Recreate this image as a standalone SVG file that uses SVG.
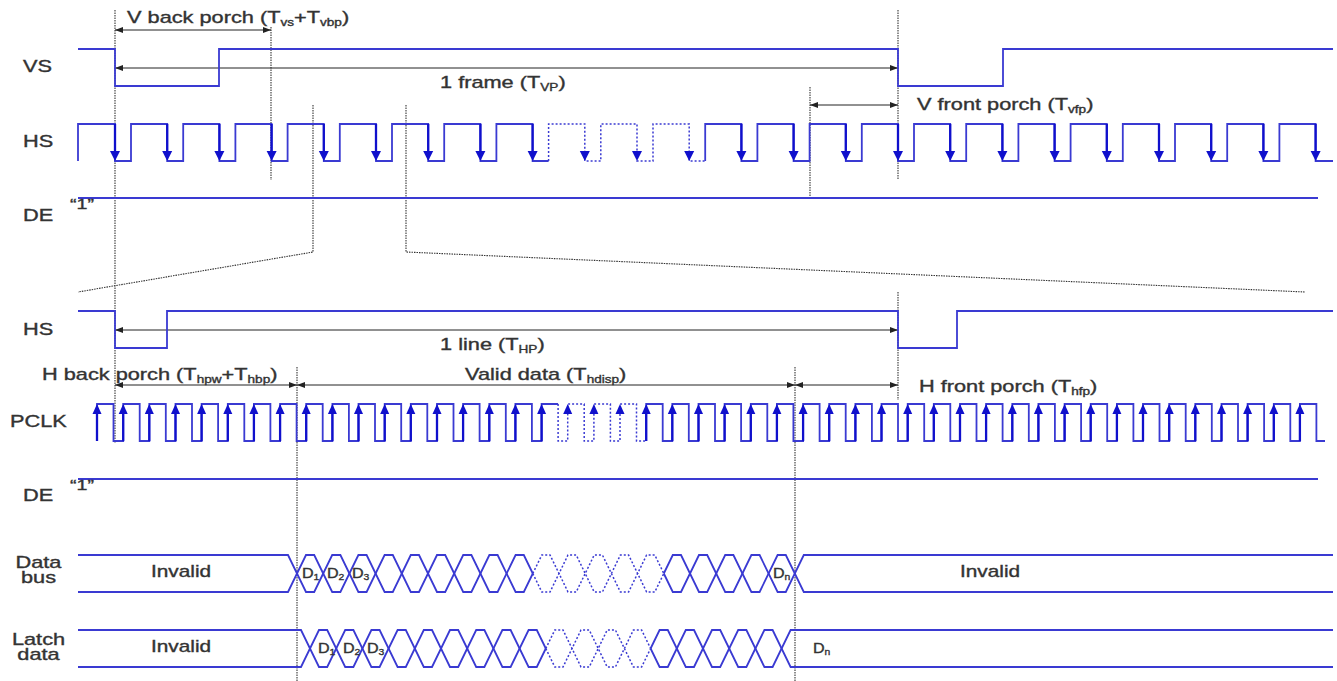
<svg xmlns="http://www.w3.org/2000/svg" xmlns:xlink="http://www.w3.org/1999/xlink" width="1337" height="681" viewBox="0 0 1337 681">
<style>
.w{fill:none;stroke:#3a3ad2;stroke-width:1.8}
.wd{fill:none;stroke:#3a3ad2;stroke-width:1.5;stroke-dasharray:2 2}
.ar{fill:#1010cc}
.as{stroke:#1010cc;stroke-width:2.3}
.g{fill:none;stroke:#333;stroke-width:1.1;stroke-dasharray:1.5 1}
.dim{stroke:#222;stroke-width:1;marker-start:url(#mk);marker-end:url(#mk)}
text{font-family:"Liberation Sans",Arial,sans-serif;font-size:16px;fill:#333;stroke:#333;stroke-width:0.35}
.s{font-size:10px}
.d{font-size:14px}
.ds{font-size:9px}
</style>
<defs>
<marker id="mk" viewBox="0 0 8 6" refX="8" refY="3" markerWidth="8" markerHeight="6" markerUnits="userSpaceOnUse" orient="auto-start-reverse"><path d="M0,0L8,3L0,6Z" fill="#222"/></marker>
<g id="hA"><line x1="0" y1="-37" x2="0" y2="-8" class="as"/><path d="M-5,-10L0,0L5,-10Z" class="ar"/></g>
<path id="hH" d="M-5,-10L0,0L5,-10Z" class="ar"/>
<g id="pA"><line x1="0" y1="37" x2="0" y2="8" class="as"/><path d="M-4.5,10L0,0L4.5,10Z" class="ar"/></g>
<path id="pH" d="M-4.5,10L0,0L4.5,10Z" class="ar"/>
</defs>
<rect width="1337" height="681" fill="#fff"/>

<g id="guides">
<path class="g" d="M115,10V443 M271,27V180 M313,105V252L78,292 M406,105V252L1305,292 M810,87V199 M898,10V180 M898,292V400 M297,367V681 M795,367V681"/>
</g>

<g id="connectors">
<line class="dim" x1="115" y1="30" x2="271" y2="30"/>
<line class="dim" x1="115" y1="68" x2="898" y2="68"/>
<line class="dim" x1="810" y1="105" x2="898" y2="105"/>
<line class="dim" x1="115" y1="330" x2="898" y2="330"/>
<line class="dim" x1="115" y1="385" x2="297" y2="385"/>
<line class="dim" x1="297" y1="385" x2="795" y2="385"/>
<line class="dim" x1="795" y1="385" x2="898" y2="385"/>
</g>

<g id="vs">
<path class="w" d="M78,49H115V86H219V49H898V86H1003V49H1333"/>
<text transform="translate(23,72) scale(1.36,1)">VS</text>
</g>

<g id="hs-top">
<path class="w" d="M78,161V124H115V161H131V124H167.2V161H183.2V124H219.4V161H235.4V124H271.6V161H287.6V124H323.8V161H339.8V124H376V161H392V124H428.2V161H444.2V124H480.4V161H496.4V124H532.6V161H548.6"/>
<path class="wd" d="M548.6,161V124H584.8V161H600.8V124H637V161H653V124H689.2V161H705.2"/>
<path class="w" d="M705.2,161V124H741.4V161H757.4V124H793.6V161H809.6V124H845.8V161H861.8V124H898V161H914V124H950.2V161H966.2V124H1002.4V161H1018.4V124H1054.6V161H1070.6V124H1106.8V161H1122.8V124H1159V161H1175V124H1211.2V161H1227.2V124H1263.4V161H1279.4V124H1315.6V161H1333"/>
<use xlink:href="#hA" x="115" y="161"/><use xlink:href="#hA" x="167.2" y="161"/><use xlink:href="#hA" x="219.4" y="161"/><use xlink:href="#hA" x="271.6" y="161"/><use xlink:href="#hA" x="323.8" y="161"/><use xlink:href="#hA" x="376" y="161"/><use xlink:href="#hA" x="428.2" y="161"/><use xlink:href="#hA" x="480.4" y="161"/><use xlink:href="#hA" x="532.6" y="161"/>
<use xlink:href="#hH" x="584.8" y="161"/><use xlink:href="#hH" x="637" y="161"/><use xlink:href="#hH" x="689.2" y="161"/>
<use xlink:href="#hA" x="741.4" y="161"/><use xlink:href="#hA" x="793.6" y="161"/><use xlink:href="#hA" x="845.8" y="161"/><use xlink:href="#hA" x="898" y="161"/><use xlink:href="#hA" x="950.2" y="161"/><use xlink:href="#hA" x="1002.4" y="161"/><use xlink:href="#hA" x="1054.6" y="161"/><use xlink:href="#hA" x="1106.8" y="161"/><use xlink:href="#hA" x="1159" y="161"/><use xlink:href="#hA" x="1211.2" y="161"/><use xlink:href="#hA" x="1263.4" y="161"/><use xlink:href="#hA" x="1315.6" y="161"/>
<text transform="translate(23,147) scale(1.36,1)">HS</text>
</g>

<g id="de-top">
<path class="w" d="M78,198H1318"/>
<text transform="translate(23,221) scale(1.36,1)">DE</text>
<text transform="translate(70,209) scale(1.4,1)" style="font-size:14px">“1”</text>
</g>

<g id="labels-top">
<text transform="translate(127,23) scale(1.36,1)">V back porch (T<tspan class="s" dy="3">vs</tspan><tspan dy="-3">+T</tspan><tspan class="s" dy="3">vbp</tspan><tspan dy="-3">)</tspan></text>
<text transform="translate(440,88) scale(1.36,1)">1 frame (T<tspan class="s" dy="3">VP</tspan><tspan dy="-3">)</tspan></text>
<text transform="translate(917,110) scale(1.36,1)">V front porch (T<tspan class="s" dy="3">vfp</tspan><tspan dy="-3">)</tspan></text>
</g>

<g id="hs-line">
<path class="w" d="M78,311H115V348H167V311H898V348H957V311H1333"/>
<text transform="translate(23,335) scale(1.36,1)">HS</text>
<text transform="translate(440,350) scale(1.36,1)">1 line (T<tspan class="s" dy="3">HP</tspan><tspan dy="-3">)</tspan></text>
<text transform="translate(42,380) scale(1.36,1)">H back porch (T<tspan class="s" dy="3">hpw</tspan><tspan dy="-3">+T</tspan><tspan class="s" dy="3">hbp</tspan><tspan dy="-3">)</tspan></text>
<text transform="translate(465,380) scale(1.36,1)">Valid data (T<tspan class="s" dy="3">hdisp</tspan><tspan dy="-3">)</tspan></text>
<text transform="translate(919,392) scale(1.36,1)">H front porch (T<tspan class="s" dy="3">hfp</tspan><tspan dy="-3">)</tspan></text>
</g>

<g id="pclk">
<path class="w" d="M97,441V404H113.5V441H123.2V404H139.7V441H149.3V404H165.8V441H175.5V404H192V441H201.6V404H218.1V441H227.8V404H244.3V441H253.9V404H270.4V441H280.1V404H296.6V441H306.2V404H322.7V441H332.4V404H348.9V441H358.5V404H375V441H384.7V404H401.2V441H410.8V404H427.3V441H437V404H453.5V441H463.1V404H479.6V441H489.3V404H505.8V441H515.4V404H531.9V441H541.6V404H558.1"/>
<path class="wd" d="M558.1,404V441H567.7V404H584.2V441H593.9V404H610.4V441H620V404H636.5V441H646.2"/>
<path class="w" d="M646.2,441V404H662.7V441H672.3V404H688.8V441H698.5V404H715V441H724.6V404H741.1V441H750.8V404H767.3V441H776.9V404H793.4V441H803.1V404H819.6V441H829.2V404H845.7V441H855.4V404H871.9V441H881.5V404H898V441H907.7V404H924.2V441H933.8V404H950.3V441H960V404H976.5V441H986.1V404H1002.6V441H1012.3V404H1028.8V441H1038.4V404H1054.9V441H1064.6V404H1081.1V441H1090.7V404H1107.2V441H1116.9V404H1133.4V441H1143V404H1159.5V441H1169.2V404H1185.7V441H1195.3V404H1211.8V441H1221.5V404H1238V441H1247.6V404H1264.1V441H1273.8V404H1290.3V441H1299.9V404H1316.4V441H1325"/>
<use xlink:href="#pA" x="97" y="404"/><use xlink:href="#pA" x="123.2" y="404"/><use xlink:href="#pA" x="149.3" y="404"/><use xlink:href="#pA" x="175.5" y="404"/><use xlink:href="#pA" x="201.6" y="404"/><use xlink:href="#pA" x="227.8" y="404"/><use xlink:href="#pA" x="253.9" y="404"/><use xlink:href="#pA" x="280.1" y="404"/><use xlink:href="#pA" x="306.2" y="404"/><use xlink:href="#pA" x="332.4" y="404"/><use xlink:href="#pA" x="358.5" y="404"/><use xlink:href="#pA" x="384.7" y="404"/><use xlink:href="#pA" x="410.8" y="404"/><use xlink:href="#pA" x="437" y="404"/><use xlink:href="#pA" x="463.1" y="404"/><use xlink:href="#pA" x="489.3" y="404"/><use xlink:href="#pA" x="515.4" y="404"/><use xlink:href="#pA" x="541.6" y="404"/>
<use xlink:href="#pH" x="567.7" y="404"/><use xlink:href="#pH" x="593.9" y="404"/><use xlink:href="#pH" x="620" y="404"/>
<use xlink:href="#pA" x="646.2" y="404"/><use xlink:href="#pA" x="672.3" y="404"/><use xlink:href="#pA" x="698.5" y="404"/><use xlink:href="#pA" x="724.6" y="404"/><use xlink:href="#pA" x="750.8" y="404"/><use xlink:href="#pA" x="776.9" y="404"/><use xlink:href="#pA" x="803.1" y="404"/><use xlink:href="#pA" x="829.2" y="404"/><use xlink:href="#pA" x="855.4" y="404"/><use xlink:href="#pA" x="881.5" y="404"/><use xlink:href="#pA" x="907.7" y="404"/><use xlink:href="#pA" x="933.8" y="404"/><use xlink:href="#pA" x="960" y="404"/><use xlink:href="#pA" x="986.1" y="404"/><use xlink:href="#pA" x="1012.3" y="404"/><use xlink:href="#pA" x="1038.4" y="404"/><use xlink:href="#pA" x="1064.6" y="404"/><use xlink:href="#pA" x="1090.7" y="404"/><use xlink:href="#pA" x="1116.9" y="404"/><use xlink:href="#pA" x="1143" y="404"/><use xlink:href="#pA" x="1169.2" y="404"/><use xlink:href="#pA" x="1195.3" y="404"/><use xlink:href="#pA" x="1221.5" y="404"/><use xlink:href="#pA" x="1247.6" y="404"/><use xlink:href="#pA" x="1273.8" y="404"/><use xlink:href="#pA" x="1299.9" y="404"/>
<text transform="translate(10,427) scale(1.36,1)">PCLK</text>
</g>

<g id="de-line">
<path class="w" d="M78,479H1318"/>
<text transform="translate(23,501) scale(1.36,1)">DE</text>
<text transform="translate(70,490) scale(1.4,1)" style="font-size:14px">“1”</text>
</g>

<g id="data-bus">
<path class="w" d="M78,555H288L306,592H314.2L332.2,555H340.4L358.4,592H366.6L384.6,555H392.8L410.8,592H419L437,555H445.2L463.2,592H471.4L489.4,555H497.6L515.6,592H523.8L532.8,573.5"/>
<path class="wd" d="M532.8,573.5L541.8,555H550L568,592H576.2L594.2,555H602.4L620.4,592H628.6L646.6,555H654.8L663.8,573.5"/>
<path class="w" d="M663.8,573.5L672.8,592H681L699,555H707.2L725.2,592H733.4L751.4,555H759.6L777.6,592H785.8L803.8,555H1333"/>
<path class="w" d="M78,592H288L306,555H314.2L332.2,592H340.4L358.4,555H366.6L384.6,592H392.8L410.8,555H419L437,592H445.2L463.2,555H471.4L489.4,592H497.6L515.6,555H523.8L532.8,573.5"/>
<path class="wd" d="M532.8,573.5L541.8,592H550L568,555H576.2L594.2,592H602.4L620.4,555H628.6L646.6,592H654.8L663.8,573.5"/>
<path class="w" d="M663.8,573.5L672.8,555H681L699,592H707.2L725.2,555H733.4L751.4,592H759.6L777.6,555H785.8L803.8,592H1333"/>
<text transform="translate(38.5,568) scale(1.36,1)" text-anchor="middle">Data</text>
<text transform="translate(38.5,583) scale(1.36,1)" text-anchor="middle">bus</text>
<text transform="translate(151,577) scale(1.3,1)">Invalid</text>
<text transform="translate(960,577) scale(1.3,1)">Invalid</text>
<text class="d" transform="translate(302,578) scale(1.15,1)">D<tspan class="ds" dy="2">1</tspan></text>
<text class="d" transform="translate(327,578) scale(1.15,1)">D<tspan class="ds" dy="2">2</tspan></text>
<text class="d" transform="translate(352,578) scale(1.15,1)">D<tspan class="ds" dy="2">3</tspan></text>
<text class="d" transform="translate(773,578) scale(1.15,1)">D<tspan class="ds" dy="2">n</tspan></text>
</g>

<g id="latch-data">
<path class="w" d="M78,630H301L319,667H327.2L345.2,630H353.4L371.4,667H379.6L397.6,630H405.8L423.8,667H432L450,630H458.2L476.2,667H484.4L502.4,630H510.6L528.6,667H536.8L545.8,648.5"/>
<path class="wd" d="M545.8,648.5L554.8,630H563L581,667H589.2L607.2,630H615.4L633.4,667H641.6L650.6,648.5"/>
<path class="w" d="M650.6,648.5L659.6,630H667.8L685.8,667H694L712,630H720.2L738.2,667H746.4L764.4,630H772.6L790.6,667H1333"/>
<path class="w" d="M78,667H301L319,630H327.2L345.2,667H353.4L371.4,630H379.6L397.6,667H405.8L423.8,630H432L450,667H458.2L476.2,630H484.4L502.4,667H510.6L528.6,630H536.8L545.8,648.5"/>
<path class="wd" d="M545.8,648.5L554.8,667H563L581,630H589.2L607.2,667H615.4L633.4,630H641.6L650.6,648.5"/>
<path class="w" d="M650.6,648.5L659.6,667H667.8L685.8,630H694L712,667H720.2L738.2,630H746.4L764.4,667H772.6L790.6,630H1333"/>
<text transform="translate(38.5,645) scale(1.36,1)" text-anchor="middle">Latch</text>
<text transform="translate(38.5,660) scale(1.36,1)" text-anchor="middle">data</text>
<text transform="translate(151,652) scale(1.3,1)">Invalid</text>
<text class="d" transform="translate(318,653) scale(1.15,1)">D<tspan class="ds" dy="2">1</tspan></text>
<text class="d" transform="translate(343,653) scale(1.15,1)">D<tspan class="ds" dy="2">2</tspan></text>
<text class="d" transform="translate(367,653) scale(1.15,1)">D<tspan class="ds" dy="2">3</tspan></text>
<text class="d" transform="translate(813,653) scale(1.15,1)">D<tspan class="ds" dy="2">n</tspan></text>
</g>
</svg>
